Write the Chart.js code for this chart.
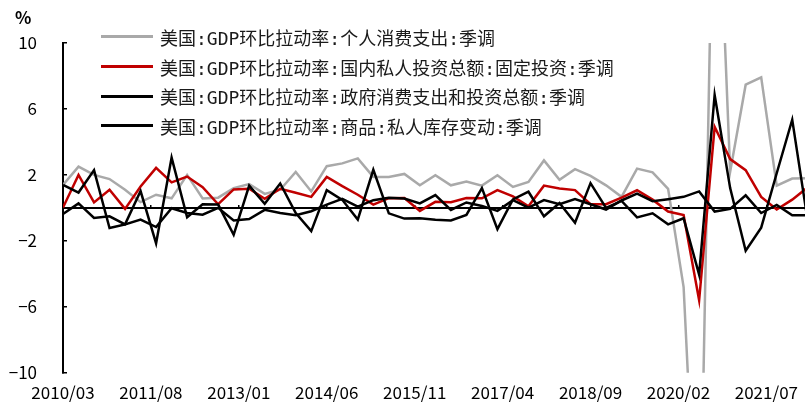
<!DOCTYPE html>
<html>
<head>
<meta charset="utf-8">
<script src="https://cdn.jsdelivr.net/npm/chart.js@4.4.1/dist/chart.umd.min.js"></script>
<style>
  html, body { margin: 0; padding: 0; background: #fff; overflow: hidden; }
  #wrap { position: relative; width: 808px; height: 413px; }
  #unit { position: absolute; left: 15px; top: 4px; font: bold 17px "Noto Sans CJK SC", sans-serif; color: #000; }
  #legend { position: absolute; left: 101px; top: 22px; font: 18px "DejaVu Sans Mono", "Noto Sans CJK SC", monospace; color: #1a1a1a; }
  .item { height: 29.7px; display: flex; align-items: center; white-space: nowrap; }
  .swatch { width: 52px; height: 0; border-top: 3px solid; margin-right: 7px; }
</style>
</head>
<body>
<div id="wrap">
  <canvas id="chart"></canvas>
  <div id="unit">%</div>
  <div id="legend"></div>
</div>
<script>
	// quarterly points, 2010/03 .. 2022/03
	var quarters = [
		'2010/03','2010/06','2010/09','2010/12','2011/03','2011/06','2011/09','2011/12',
		'2012/03','2012/06','2012/09','2012/12','2013/03','2013/06','2013/09','2013/12',
		'2014/03','2014/06','2014/09','2014/12','2015/03','2015/06','2015/09','2015/12',
		'2016/03','2016/06','2016/09','2016/12','2017/03','2017/06','2017/09','2017/12',
		'2018/03','2018/06','2018/09','2018/12','2019/03','2019/06','2019/09','2019/12',
		'2020/03','2020/06','2020/09','2020/12','2021/03','2021/06','2021/09','2021/12',
		'2022/03'
	];
	var xTickLabels = ['2010/03','2011/08','2013/01','2014/06','2015/11','2017/04','2018/09','2020/02','2021/07'];

	var pce = [1.4, 2.5, 2.0, 1.75, 1.1, 0.35, 0.8, 0.58,
		2.0, 0.57, 0.62, 1.2, 1.45, 0.85, 1.1, 2.18,
		1.0, 2.53, 2.7, 3.0, 1.88, 1.88, 2.06, 1.37,
		1.98, 1.37, 1.6, 1.35, 1.98, 1.27, 1.57, 2.88,
		1.7, 2.35, 1.94, 1.37, 0.67, 2.38, 2.16, 1.16,
		-4.8, -24.1, 25.5, 2.2, 7.47, 7.92, 1.35, 1.78,
		1.8];
	var fixedInv = [0.02, 2.0, 0.33, 1.1, -0.06, 1.3, 2.43, 1.55,
		1.9, 1.26, 0.22, 1.12, 1.16, 0.55, 1.16, 0.92,
		0.67, 1.88, 1.32, 0.8, 0.2, 0.59, 0.6, -0.18,
		0.37, 0.35, 0.6, 0.58, 1.08, 0.7, 0.1, 1.35,
		1.18, 1.08, 0.22, 0.22, 0.62, 1.07, 0.5, -0.22,
		-0.43, -5.6, 4.92, 2.96, 2.29, 0.67, -0.1, 0.5,
		1.25];
	var govt = [-0.37, 0.27, -0.61, -0.51, -1.0, -0.71, -1.16, -0.02,
		-0.31, -0.41, 0.0, -0.76, -0.68, -0.12, -0.31, -0.45,
		-0.2, 0.2, 0.55, 0.08, 0.47, 0.62, 0.57, 0.27,
		0.78, -0.12, 0.33, 0.12, -0.18, 0.47, 0.02, 0.47,
		0.22, 0.53, 0.22, -0.1, 0.45, 0.86, 0.41, 0.53,
		0.67, 1.0, -0.22, -0.06, 0.76, -0.31, 0.18, -0.45,
		-0.45];
	var inventory = [1.39, 0.93, 2.29, -1.22, -1.0, 1.02, -2.15, 3.05,
		-0.57, 0.22, 0.2, -1.63, 1.35, 0.25, 1.48, -0.31,
		-1.41, 1.08, 0.49, -0.71, 2.31, -0.33, -0.65, -0.63,
		-0.72, -0.76, -0.43, 1.2, -1.29, 0.52, 0.98, -0.51,
		0.3, -0.9, 1.5, 0.0, 0.42, -0.58, -0.33, -1.0,
		-0.63, -4.05, 6.85, 1.2, -2.6, -1.2, 2.1, 5.35,
		-0.8];

	var seriesNames = [
		'美国:GDP环比拉动率:个人消费支出:季调',
		'美国:GDP环比拉动率:国内私人投资总额:固定投资:季调',
		'美国:GDP环比拉动率:政府消费支出和投资总额:季调',
		'美国:GDP环比拉动率:商品:私人库存变动:季调'
	];
	var seriesColors = ['#a9a9a9', '#c00000', '#000000', '#000000'];

	// months since 2010/03
	function monthIndex(label) {
		var p = label.split('/');
		return (parseInt(p[0], 10) - 2010) * 12 + (parseInt(p[1], 10) - 3);
	}
	function toPoints(values) {
		return values.map(function (v, i) {
			return {x: monthIndex(quarters[i]), y: v};
		});
	}
	function setTicks(scale) {
		scale.ticks = xTickLabels.map(function (l) { return {value: monthIndex(l)}; });
	}

	var allSeries = [pce, fixedInv, govt, inventory];
	var datasets = allSeries.map(function (s, k) {
		return {
			label: seriesNames[k],
			data: toPoints(s),
			borderColor: seriesColors[k],
			backgroundColor: seriesColors[k],
			borderWidth: 2.5,
			pointRadius: 0,
			tension: 0,
			clip: 0,
			order: 4 - k
		};
	});

	var xMax = monthIndex(quarters[quarters.length - 1]);

	var myChart = new Chart(document.getElementById('chart'), {
		type: 'line',
		data: {datasets: datasets},
		options: {
			responsive: true,
			maintainAspectRatio: false,
			animation: false,
			devicePixelRatio: 1,
			layout: {padding: {top: 43, left: 0, right: 0, bottom: 0}},
			plugins: {legend: {display: false}, tooltip: {enabled: false}},
			scales: {
				x: {
					type: 'linear',
					position: 'bottom',
					min: 0,
					max: xMax,
					afterBuildTicks: setTicks,
					afterFit: function (scale) { scale.height = 30; },
					grid: {display: false, drawTicks: false},
					border: {display: false},
					ticks: {
						autoSkip: false,
						maxRotation: 0,
						padding: 10,
						color: '#000',
						font: {family: 'Noto Sans CJK SC', size: 17},
						callback: function (value) {
							var lab = xTickLabels.filter(function (l) { return monthIndex(l) === value; });
							return lab.length ? lab[0] : '';
						}
					}
				},
				xZero: {
					type: 'linear',
					axis: 'x',
					position: {y: 0},
					min: 0,
					max: xMax,
					afterBuildTicks: setTicks,
					ticks: {display: false},
					grid: {drawOnChartArea: false, drawTicks: true, tickLength: -4, color: '#000', lineWidth: 1.5},
					border: {display: true, color: '#000', width: 2}
				},
				y: {
					position: 'left',
					min: -10,
					max: 10,
					afterFit: function (scale) { scale.width = 63; },
					grid: {drawOnChartArea: false, drawTicks: true, tickLength: -4, color: '#000', lineWidth: 1.5},
					border: {display: true, color: '#000', width: 2},
					ticks: {
						stepSize: 4,
						padding: 30,
						color: '#000',
						font: {family: 'Noto Sans CJK SC', size: 17},
						callback: function (value) { return String(value).replace('-', '\u2212'); }
					}
				}
			}
		}
	});

	// legend built from the datasets, same order as the source chart
	var legendBox = document.getElementById('legend');
	seriesNames.forEach(function (name, k) {
		var row = document.createElement('div');
		row.className = 'item';
		var sw = document.createElement('span');
		sw.className = 'swatch';
		sw.style.borderTopColor = seriesColors[k];
		var txt = document.createElement('span');
		txt.textContent = name;
		row.appendChild(sw);
		row.appendChild(txt);
		legendBox.appendChild(row);
	});
</script>
</body>
</html>
